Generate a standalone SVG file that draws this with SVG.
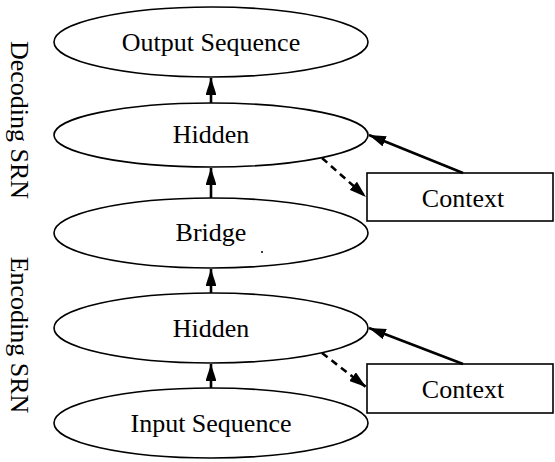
<svg xmlns="http://www.w3.org/2000/svg" width="555" height="462" viewBox="0 0 555 462">
<defs>
<style>
.n{fill:#fff;stroke:#000;stroke-width:1.6}
.t{font-family:"Liberation Serif","Times New Roman",serif;font-size:26px;fill:#000;text-anchor:middle}
.c{stroke:#000;stroke-width:2.6;fill:none}
.d{stroke-dasharray:7,5}
</style>
<marker id="ah" viewBox="0 0 10 10" refX="10" refY="5" markerWidth="6.5" markerHeight="4.2" orient="auto" markerUnits="strokeWidth" preserveAspectRatio="none">
<path d="M0,0 L10,5 L0,10 z" fill="#000"/>
</marker>
</defs>
<rect width="555" height="462" fill="#fff"/>
<text class="t" transform="translate(11,120) rotate(90)">Decoding SRN</text>
<text class="t" transform="translate(11,335) rotate(90)">Encoding SRN</text>
<g id="output"><ellipse class="n" cx="211" cy="42" rx="157" ry="35"/><text class="t" x="211" y="51">Output Sequence</text></g>
<g id="hidden-dec"><ellipse class="n" cx="211" cy="135" rx="157" ry="32"/><text class="t" x="211" y="143">Hidden</text></g>
<g id="bridge"><ellipse class="n" cx="211" cy="233" rx="157" ry="35"/><text class="t" x="211" y="241">Bridge</text><circle cx="262" cy="252" r="1" fill="#000"/></g>
<g id="hidden-enc"><ellipse class="n" cx="211" cy="328" rx="157" ry="35"/><text class="t" x="211" y="337">Hidden</text></g>
<g id="input"><ellipse class="n" cx="211" cy="423" rx="157" ry="35"/><text class="t" x="211" y="432">Input Sequence</text></g>
<g id="context-dec"><rect class="n" x="367" y="173" width="186" height="48"/><text class="t" x="463" y="207">Context</text></g>
<g id="context-enc"><rect class="n" x="367" y="364" width="186" height="49"/><text class="t" x="463" y="398">Context</text></g>
<g id="connectors">
<line class="c" x1="211" y1="103" x2="211" y2="78" marker-end="url(#ah)"/>
<line class="c" x1="211" y1="198" x2="211" y2="168" marker-end="url(#ah)"/>
<line class="c" x1="211" y1="293" x2="211" y2="269" marker-end="url(#ah)"/>
<line class="c" x1="211" y1="388" x2="211" y2="364" marker-end="url(#ah)"/>
<line class="c" x1="463" y1="173" x2="369" y2="135" marker-end="url(#ah)"/>
<line class="c d" x1="322" y1="158" x2="366" y2="197" marker-end="url(#ah)"/>
<line class="c" x1="463" y1="364" x2="369" y2="328" marker-end="url(#ah)"/>
<line class="c d" x1="322" y1="353" x2="366" y2="387" marker-end="url(#ah)"/>
</g>
</svg>
